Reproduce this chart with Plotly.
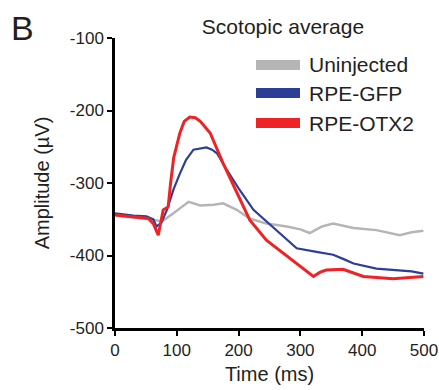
import plotly.graph_objects as go

# Data
series_names = ["Uninjected", "RPE-GFP", "RPE-OTX2"]
series_colors = ["#b5b5b7", "#2d3e97", "#ee2326"]

t_unin = [0, 20, 51, 76, 94, 110, 119, 138, 160, 175, 197, 218, 245, 278, 300, 315, 335, 353, 386, 423, 461, 480, 499]
v_unin = [-344, -347, -349, -353, -342, -332, -326, -331, -330, -328, -337, -349, -356, -360, -364, -369, -360, -356, -362, -365, -372, -368, -366]

t_gfp = [0, 30, 51, 62, 67, 75, 84, 95, 105, 115, 127, 140, 148, 157, 165, 181, 202, 224, 245, 267, 285, 294, 326, 353, 370, 386, 423, 461, 480, 499]
v_gfp = [-342, -345, -346, -350, -360, -355, -337, -308, -287, -268, -254, -252, -251, -254, -259, -282, -310, -337, -353, -369, -384, -390, -395, -399, -405, -411, -418, -420, -422, -425]

t_otx = [0, 30, 54, 62, 70, 78, 86, 90, 95, 105, 112, 121, 130, 138, 154, 175, 197, 218, 245, 272, 299, 321, 332, 342, 369, 402, 450, 499]
v_otx = [-344, -347, -349, -356, -372, -337, -333, -300, -265, -231, -215, -209, -210, -215, -231, -273, -314, -351, -379, -397, -415, -429, -423, -420, -419, -429, -432, -429]

x_ticks = [0, 100, 200, 300, 400, 500]
y_ticks = [-500, -400, -300, -200, -100]
y_tick_text = ["-500", "-400", "-300", "-200", "-100"]

FONT = "Liberation Sans, Arial, sans-serif"
INK = "#231f20"

W, H = 439, 390
L, R, T, B = 115, 15, 38, 62
PW, PH = W - L - R, H - T - B


def px(x):
    return (x - L) / PW


def py(y):
    return 1 - (y - T) / PH


fig = go.Figure()
widths = [2.5, 2.2, 3]
for t, v, name, col, w in zip([t_unin, t_gfp, t_otx], [v_unin, v_gfp, v_otx],
                              series_names, series_colors, widths):
    fig.add_trace(go.Scatter(x=t, y=v, mode="lines", name=name,
                             line=dict(color=col, width=w), showlegend=False))

# Legend built from patches + labels in paper coordinates
legend_y = [65, 93, 123]  # pixel centers
for name, col, yy in zip(series_names, series_colors, legend_y):
    fig.add_shape(type="rect", xref="paper", yref="paper",
                  x0=px(256), x1=px(300), y0=py(yy + 5), y1=py(yy - 5),
                  fillcolor=col, line=dict(width=0))
    fig.add_annotation(xref="paper", yref="paper", x=px(307), y=py(yy),
                       text=name, showarrow=False, xanchor="left", yanchor="middle",
                       font=dict(size=21, color=INK, family=FONT))

fig.update_layout(
    width=W, height=H,
    margin=dict(l=L, r=R, t=T, b=B),
    paper_bgcolor="white", plot_bgcolor="white",
    font=dict(family=FONT, color=INK),
    title=dict(text="Scotopic average", x=283 / W, xanchor="center",
               y=1 - 27 / H, yanchor="middle", font=dict(size=21)),
    xaxis=dict(range=[0, 500], tickvals=x_ticks, showgrid=False, zeroline=False,
               showline=True, linecolor="black", linewidth=2.5, automargin=False,
               ticks="outside", ticklen=5, tickwidth=2, tickcolor="black",
               tickfont=dict(size=17, color=INK), fixedrange=True,
               title=dict(text="Time (ms)", font=dict(size=20), standoff=8)),
    yaxis=dict(range=[-500, -100], tickvals=y_ticks, ticktext=y_tick_text,
               showgrid=False, zeroline=False, automargin=False,
               showline=True, linecolor="black", linewidth=2.5,
               ticks="outside", ticklen=5, tickwidth=2, tickcolor="black",
               tickfont=dict(size=17, color=INK), fixedrange=True,
               title=dict(text="Amplitude (µV)", font=dict(size=20), standoff=15)),
)

fig.add_annotation(xref="paper", yref="paper", x=px(9), y=py(28),
                   text="B", showarrow=False, xanchor="left", yanchor="middle",
                   font=dict(size=34, color=INK, family=FONT))

fig.write_html("out.html")
